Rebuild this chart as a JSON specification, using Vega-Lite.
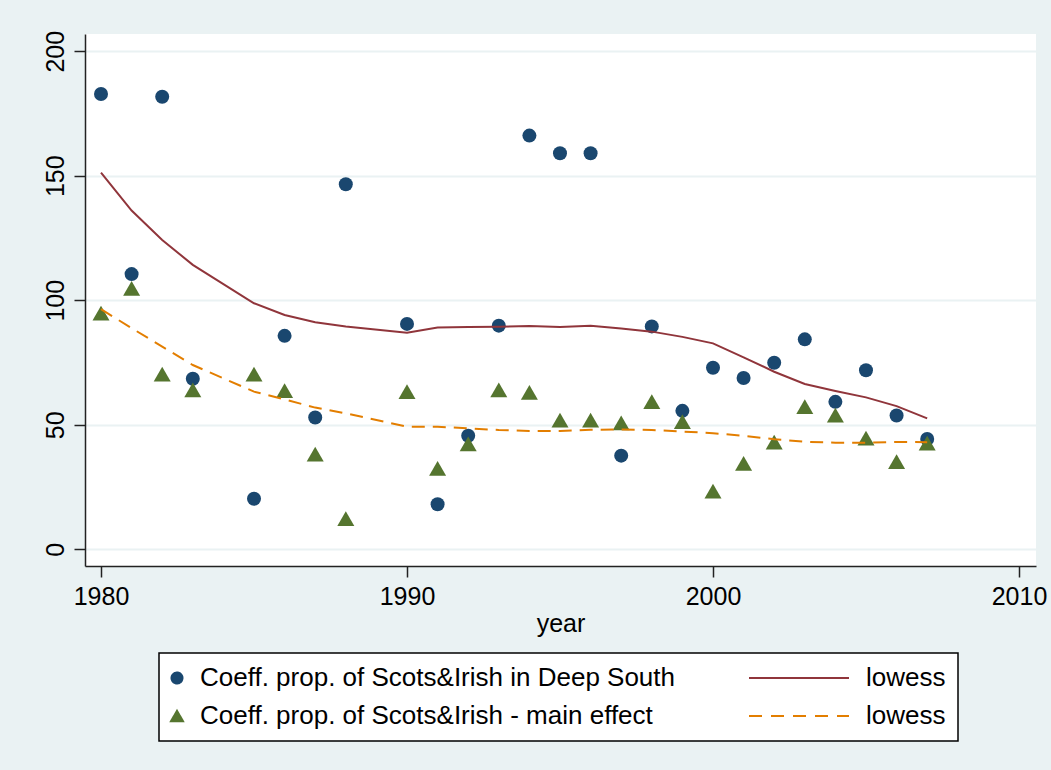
{
  "$schema": "https://vega.github.io/schema/vega-lite/v6.json",
  "width": 951,
  "height": 532,
  "autosize": {"type": "none"},
  "padding": {"left": 85, "top": 34, "right": 15, "bottom": 204},
  "background": "#EAF2F3",
  "config": {
    "view": {"fill": "white", "stroke": null},
    "font": "Liberation Sans",
    "axis": {
      "domainColor": "#222222",
      "domainWidth": 1.5,
      "tickColor": "#222222",
      "tickWidth": 1.5,
      "tickSize": 11,
      "labelFont": "Liberation Sans",
      "labelFontSize": 25,
      "labelColor": "black",
      "titleFont": "Liberation Sans",
      "titleFontSize": 25,
      "titleFontWeight": "normal",
      "titleColor": "black",
      "gridColor": "#EAF2F3",
      "gridWidth": 2,
      "gridOpacity": 1
    }
  },
  "data": {
    "values": [
      {"year": 1980, "series": "DS", "value": 182.8},
      {"year": 1981, "series": "DS", "value": 110.5},
      {"year": 1982, "series": "DS", "value": 181.7},
      {"year": 1983, "series": "DS", "value": 68.5},
      {"year": 1985, "series": "DS", "value": 20.3},
      {"year": 1986, "series": "DS", "value": 85.7},
      {"year": 1987, "series": "DS", "value": 52.9},
      {"year": 1988, "series": "DS", "value": 146.6},
      {"year": 1990, "series": "DS", "value": 90.5},
      {"year": 1991, "series": "DS", "value": 18.1},
      {"year": 1992, "series": "DS", "value": 45.6},
      {"year": 1993, "series": "DS", "value": 89.8},
      {"year": 1994, "series": "DS", "value": 166.1},
      {"year": 1995, "series": "DS", "value": 159.0},
      {"year": 1996, "series": "DS", "value": 159.0},
      {"year": 1997, "series": "DS", "value": 37.6},
      {"year": 1998, "series": "DS", "value": 89.5},
      {"year": 1999, "series": "DS", "value": 55.6},
      {"year": 2000, "series": "DS", "value": 72.9},
      {"year": 2001, "series": "DS", "value": 68.8},
      {"year": 2002, "series": "DS", "value": 74.9},
      {"year": 2003, "series": "DS", "value": 84.3},
      {"year": 2004, "series": "DS", "value": 59.2},
      {"year": 2005, "series": "DS", "value": 71.9},
      {"year": 2006, "series": "DS", "value": 53.7},
      {"year": 2007, "series": "DS", "value": 44.3},

      {"year": 1980, "series": "DSfit", "value": 151.2},
      {"year": 1981, "series": "DSfit", "value": 136.0},
      {"year": 1982, "series": "DSfit", "value": 124.2},
      {"year": 1983, "series": "DSfit", "value": 114.2},
      {"year": 1985, "series": "DSfit", "value": 98.8},
      {"year": 1986, "series": "DSfit", "value": 94.1},
      {"year": 1987, "series": "DSfit", "value": 91.2},
      {"year": 1988, "series": "DSfit", "value": 89.5},
      {"year": 1990, "series": "DSfit", "value": 87.0},
      {"year": 1991, "series": "DSfit", "value": 89.1},
      {"year": 1992, "series": "DSfit", "value": 89.3},
      {"year": 1993, "series": "DSfit", "value": 89.4},
      {"year": 1994, "series": "DSfit", "value": 89.7},
      {"year": 1995, "series": "DSfit", "value": 89.3},
      {"year": 1996, "series": "DSfit", "value": 89.8},
      {"year": 1997, "series": "DSfit", "value": 88.7},
      {"year": 1998, "series": "DSfit", "value": 87.4},
      {"year": 1999, "series": "DSfit", "value": 85.3},
      {"year": 2000, "series": "DSfit", "value": 82.7},
      {"year": 2001, "series": "DSfit", "value": 77.1},
      {"year": 2002, "series": "DSfit", "value": 71.3},
      {"year": 2003, "series": "DSfit", "value": 66.4},
      {"year": 2004, "series": "DSfit", "value": 63.6},
      {"year": 2005, "series": "DSfit", "value": 61.0},
      {"year": 2006, "series": "DSfit", "value": 57.5},
      {"year": 2007, "series": "DSfit", "value": 52.6},

      {"year": 1980, "series": "ME", "value": 94.8},
      {"year": 1981, "series": "ME", "value": 104.8},
      {"year": 1982, "series": "ME", "value": 70.3},
      {"year": 1983, "series": "ME", "value": 64.0},
      {"year": 1985, "series": "ME", "value": 70.3},
      {"year": 1986, "series": "ME", "value": 63.7},
      {"year": 1987, "series": "ME", "value": 38.2},
      {"year": 1988, "series": "ME", "value": 12.3},
      {"year": 1990, "series": "ME", "value": 63.3},
      {"year": 1991, "series": "ME", "value": 32.5},
      {"year": 1992, "series": "ME", "value": 42.3},
      {"year": 1993, "series": "ME", "value": 64.0},
      {"year": 1994, "series": "ME", "value": 63.0},
      {"year": 1995, "series": "ME", "value": 51.9},
      {"year": 1996, "series": "ME", "value": 51.9},
      {"year": 1997, "series": "ME", "value": 50.8},
      {"year": 1998, "series": "ME", "value": 59.3},
      {"year": 1999, "series": "ME", "value": 51.3},
      {"year": 2000, "series": "ME", "value": 23.4},
      {"year": 2001, "series": "ME", "value": 34.5},
      {"year": 2002, "series": "ME", "value": 43.0},
      {"year": 2003, "series": "ME", "value": 57.3},
      {"year": 2004, "series": "ME", "value": 53.9},
      {"year": 2005, "series": "ME", "value": 44.6},
      {"year": 2006, "series": "ME", "value": 35.2},
      {"year": 2007, "series": "ME", "value": 42.6},

      {"year": 1980, "series": "MEfit", "value": 96.4},
      {"year": 1981, "series": "MEfit", "value": 88.8},
      {"year": 1982, "series": "MEfit", "value": 81.4},
      {"year": 1983, "series": "MEfit", "value": 74.0},
      {"year": 1985, "series": "MEfit", "value": 63.3},
      {"year": 1986, "series": "MEfit", "value": 60.2},
      {"year": 1987, "series": "MEfit", "value": 56.9},
      {"year": 1988, "series": "MEfit", "value": 54.6},
      {"year": 1990, "series": "MEfit", "value": 49.2},
      {"year": 1991, "series": "MEfit", "value": 49.2},
      {"year": 1992, "series": "MEfit", "value": 48.6},
      {"year": 1993, "series": "MEfit", "value": 47.9},
      {"year": 1994, "series": "MEfit", "value": 47.5},
      {"year": 1995, "series": "MEfit", "value": 47.5},
      {"year": 1996, "series": "MEfit", "value": 48.0},
      {"year": 1997, "series": "MEfit", "value": 48.1},
      {"year": 1998, "series": "MEfit", "value": 47.9},
      {"year": 1999, "series": "MEfit", "value": 47.3},
      {"year": 2000, "series": "MEfit", "value": 46.6},
      {"year": 2001, "series": "MEfit", "value": 45.6},
      {"year": 2002, "series": "MEfit", "value": 44.2},
      {"year": 2003, "series": "MEfit", "value": 43.2},
      {"year": 2004, "series": "MEfit", "value": 42.8},
      {"year": 2005, "series": "MEfit", "value": 42.8},
      {"year": 2006, "series": "MEfit", "value": 43.1},
      {"year": 2007, "series": "MEfit", "value": 43.0}
    ]
  },
  "encoding": {
    "x": {
      "field": "year",
      "type": "quantitative",
      "scale": {"domain": [1979.477, 2010.556], "nice": false, "zero": false},
      "axis": {
        "values": [1980, 1990, 2000, 2010],
        "format": "d",
        "title": "year",
        "grid": false,
        "labelPadding": 7,
        "titlePadding": 2
      }
    },
    "y": {
      "field": "value",
      "type": "quantitative",
      "scale": {"domain": [-6.7, 206.9], "nice": false, "zero": false},
      "axis": {
        "values": [0, 50, 100, 150, 200],
        "format": "d",
        "title": null,
        "grid": true,
        "labelAngle": -90,
        "labelAlign": "center",
        "labelBaseline": "alphabetic",
        "labelPadding": 11
      }
    },
    "color": {
      "field": "series",
      "type": "nominal",
      "scale": {
        "domain": ["DS", "DSfit", "ME", "MEfit"],
        "range": ["#1a476f", "#90353b", "#55752f", "#e37e00"]
      },
      "legend": {
        "title": null,
        "orient": "none",
        "legendX": 74,
        "legendY": 619,
        "direction": "horizontal",
        "columns": 2,
        "gridAlign": "each",
        "columnPadding": 10,
        "rowPadding": 12,
        "padding": 12,
        "fillColor": "white",
        "strokeColor": "black",
        "cornerRadius": 0,
        "symbolSize": 100,
        "labelFont": "Liberation Sans",
        "labelFontSize": 26,
        "labelColor": "black",
        "labelLimit": 800,
        "labelBaseline": "middle",
        "labelExpr": "datum.value == 'DS' ? 'Coeff. prop. of Scots&Irish in Deep South' : datum.value == 'ME' ? 'Coeff. prop. of Scots&Irish - main effect' : 'lowess'",
        "encode": {
          "legend": {"update": {"strokeWidth": {"value": 1.5}}},
          "symbols": {
            "update": {
              "shape": {"signal": "datum.value == 'DS' ? 'circle' : datum.value == 'ME' ? 'triangle-up' : 'stroke'"},
              "size": {"signal": "datum.value == 'DS' ? 121 : datum.value == 'ME' ? 144 : 10000"},
              "x": {"signal": "(datum.value == 'DS' || datum.value == 'ME') ? 6 : 113"},
              "y": {"value": 13},
              "fill": {"signal": "datum.value == 'DS' ? '#1a476f' : datum.value == 'ME' ? '#55752f' : 'transparent'"},
              "stroke": {"signal": "datum.value == 'DSfit' ? '#90353b' : datum.value == 'MEfit' ? '#e37e00' : 'transparent'"},
              "strokeWidth": {"value": 2},
              "strokeDash": {"signal": "datum.value == 'MEfit' ? [13, 9] : [1, 0]"},
              "opacity": {"value": 1}
            }
          },
          "labels": {
            "update": {
              "x": {"signal": "(datum.value == 'DS' || datum.value == 'ME') ? 29 : 180"},
              "y": {"value": 13}
            }
          }
        }
      }
    }
  },
  "layer": [
    {
      "transform": [{"filter": "datum.series == 'DS'"}],
      "mark": {"type": "point", "shape": "circle", "filled": true, "opacity": 1, "size": 196, "strokeWidth": 0}
    },
    {
      "transform": [{"filter": "datum.series == 'DSfit'"}],
      "mark": {"type": "line", "strokeWidth": 2}
    },
    {
      "transform": [{"filter": "datum.series == 'ME'"}],
      "mark": {"type": "point", "shape": "triangle-up", "filled": true, "opacity": 1, "size": 289, "strokeWidth": 0}
    },
    {
      "transform": [{"filter": "datum.series == 'MEfit'"}],
      "mark": {"type": "line", "strokeWidth": 2, "strokeDash": [13, 8]}
    }
  ]
}
